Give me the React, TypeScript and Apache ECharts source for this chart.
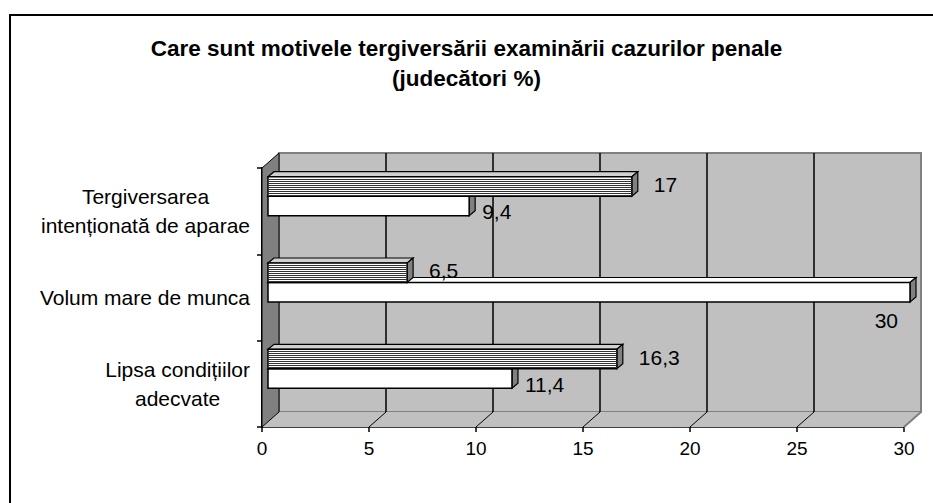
import React, { useEffect, useRef } from 'react';
import * as echarts from 'echarts';

const TITLE = 'Care sunt motivele tergiversării examinării cazurilor penale\n(judecători %)';
// bottom to top
const CATEGORIES = ['Lipsa condițiilor\nadecvate', 'Volum mare de munca', 'Tergiversarea\nintenționată de aparae'];
const STRIPED = [16.3, 6.5, 17];
const WHITE = [11.4, 30, 9.4];
const X_MIN = 0;
const X_MAX = 30;
const X_STEP = 5;

const FONT = 'Arial, "Liberation Sans", sans-serif';
const WALL_DX = 17;
const WALL_DY = -15;
const BAR_DX = 6;
const BAR_DY = -5;
const BAR_H = 19.5;

const fmt = (v: number) => String(v).replace('.', ',');

function wallsRender(params: any, api: any) {
  const cs = params.coordSys;
  const left = cs.x;
  const right = cs.x + cs.width;
  const top = cs.y;
  const bottom = cs.y + cs.height;
  const children: any[] = [];
  children.push({
    type: 'polygon',
    z2: 0,
    shape: { points: [[left, bottom], [right, bottom], [right + WALL_DX, bottom + WALL_DY], [left + WALL_DX, bottom + WALL_DY]] },
    style: { fill: '#c0c0c0', stroke: 'none' },
  });
  children.push({
    type: 'line',
    z2: 5,
    shape: { x1: right, y1: bottom, x2: right + WALL_DX, y2: bottom + WALL_DY },
    style: { stroke: '#808080', lineWidth: 2 },
  });
  for (let t = X_MIN + X_STEP; t < X_MAX; t += X_STEP) {
    const x = api.coord([t, 0])[0];
    children.push({
      type: 'line',
      z2: 5,
      shape: { x1: x, y1: bottom, x2: x + WALL_DX, y2: bottom + WALL_DY },
      style: { stroke: '#000', lineWidth: 1 },
    });
  }
  children.push({
    type: 'polygon',
    z2: 10,
    shape: { points: [[left, top], [left + WALL_DX, top + WALL_DY], [left + WALL_DX, bottom + WALL_DY], [left, bottom]] },
    style: { fill: '#808080', stroke: '#000', lineWidth: 1 },
  });
  return { type: 'group', children };
}

function makeBarRender(kind: 'striped' | 'white') {
  return (params: any, api: any) => {
    const v = api.value(0);
    const c = api.value(1);
    const p0 = api.coord([0, c]);
    const p1 = api.coord([v, c]);
    const x0 = p0[0];
    const x1 = p1[0];
    const cy = p0[1];
    const top = kind === 'striped' ? cy - BAR_H : cy;
    const bot = top + BAR_H;
    const children: any[] = [];
    children.push({
      type: 'polygon',
      shape: { points: [[x0, top], [x0 + BAR_DX, top + BAR_DY], [x1 + BAR_DX, top + BAR_DY], [x1, top]] },
      style: { fill: kind === 'striped' ? '#d0d0d0' : '#ffffff', stroke: '#000', lineWidth: 1.2 },
    });
    children.push({
      type: 'polygon',
      shape: { points: [[x1, top], [x1 + BAR_DX, top + BAR_DY], [x1 + BAR_DX, bot + BAR_DY], [x1, bot]] },
      style: { fill: '#808080', stroke: '#000', lineWidth: 1.2 },
    });
    children.push({
      type: 'rect',
      shape: { x: x0, y: top, width: x1 - x0, height: BAR_H },
      style: { fill: '#ffffff', stroke: '#000', lineWidth: 1.5 },
    });
    if (kind === 'striped') {
      let d = '';
      for (let y = Math.round(top) + 2; y < bot - 1; y += 2) {
        d += `M${x0} ${y + 0.5}H${x1}`;
      }
      children.push({
        type: 'path',
        shape: { pathData: d },
        style: { fill: 'none', stroke: '#333', lineWidth: 1 },
      });
    }
    const mid = (top + bot) / 2;
    let lx = kind === 'striped' ? x1 + 22 : x1 + 13;
    let ly = kind === 'striped' ? mid - 2 : mid + 6;
    let align = 'left';
    if (x1 + 60 > api.getWidth()) {
      lx = x1 - 12;
      ly = bot + 18;
      align = 'right';
    }
    children.push({
      type: 'text',
      x: lx,
      y: ly,
      style: {
        text: fmt(v),
        fontSize: 21,
        fontFamily: FONT,
        fill: '#000',
        align,
        verticalAlign: 'middle',
      },
    });
    return { type: 'group', children };
  };
}

export default function App() {
  const ref = useRef<HTMLDivElement>(null);
  useEffect(() => {
    if (!ref.current) return;
    const chart = echarts.init(ref.current, undefined, { renderer: 'svg' });
    const option: any = {
      animation: false,
      backgroundColor: '#ffffff',
      title: {
        text: TITLE,
        left: 'center',
        top: 33,
        padding: 0,
        textStyle: { fontSize: 22.5, fontWeight: 'bold', fontFamily: FONT, lineHeight: 30, color: '#000' },
      },
      graphic: [
        {
          type: 'rect',
          silent: true,
          shape: { x: 10, y: 15, width: 1000, height: 600 },
          style: { fill: 'none', stroke: '#000', lineWidth: 2 },
        },
      ],
      grid: [
        { left: 262, right: 29, top: 168, bottom: 76, show: false },
        { left: 279, right: 12, top: 153, bottom: 91, show: true, backgroundColor: '#c0c0c0', borderColor: '#808080', borderWidth: 2 },
        { left: 268, right: 23, top: 153, bottom: 91, show: false },
      ],
      xAxis: [
        {
          type: 'value', gridIndex: 0, min: X_MIN, max: X_MAX, interval: X_STEP,
          axisLine: { show: true, lineStyle: { color: '#000', width: 1.5 } },
          axisTick: { show: true, length: 5, lineStyle: { color: '#000', width: 1.5 } },
          axisLabel: { fontSize: 19, fontFamily: FONT, color: '#000', margin: 12 },
          splitLine: { show: false },
        },
        {
          type: 'value', gridIndex: 1, min: X_MIN, max: X_MAX, interval: X_STEP,
          axisLine: { show: false }, axisTick: { show: false }, axisLabel: { show: false },
          splitLine: { show: true, showMinLine: false, showMaxLine: false, lineStyle: { color: '#000', width: 1.5 } },
        },
        {
          type: 'value', gridIndex: 2, min: X_MIN, max: X_MAX, interval: X_STEP, show: false,
        },
      ],
      yAxis: [
        {
          type: 'category', gridIndex: 0, data: CATEGORIES,
          axisLine: { show: true, lineStyle: { color: '#000', width: 2 } },
          axisTick: { show: true, length: 5, lineStyle: { color: '#000', width: 1.5 } },
          axisLabel: {
            margin: 12,
            formatter: (v: string) => v.split('\n').map((s) => `{c|${s}}`).join('\n'),
            rich: { c: { align: 'center', fontSize: 21, lineHeight: 29, fontFamily: FONT, color: '#000' } },
          },
          splitLine: { show: false },
        },
        { type: 'category', gridIndex: 1, data: CATEGORIES, show: false },
        { type: 'category', gridIndex: 2, data: CATEGORIES, show: false },
      ],
      series: [
        {
          type: 'custom', name: 'walls', xAxisIndex: 0, yAxisIndex: 0, z: 1, silent: true,
          data: [[X_MIN, 0]],
          renderItem: wallsRender,
        },
        {
          type: 'custom', name: 'white', xAxisIndex: 2, yAxisIndex: 2, z: 3, silent: true,
          data: WHITE.map((v, i) => [v, i]),
          encode: { x: 0, y: 1 },
          renderItem: makeBarRender('white'),
        },
        {
          type: 'custom', name: 'striped', xAxisIndex: 2, yAxisIndex: 2, z: 4, silent: true,
          data: STRIPED.map((v, i) => [v, i]),
          encode: { x: 0, y: 1 },
          renderItem: makeBarRender('striped'),
        },
      ],
    };
    chart.setOption(option);
    return () => chart.dispose();
  }, []);
  return <div ref={ref} style={{ position: 'fixed', left: 0, top: 0, width: 933, height: 503 }} />;
}
